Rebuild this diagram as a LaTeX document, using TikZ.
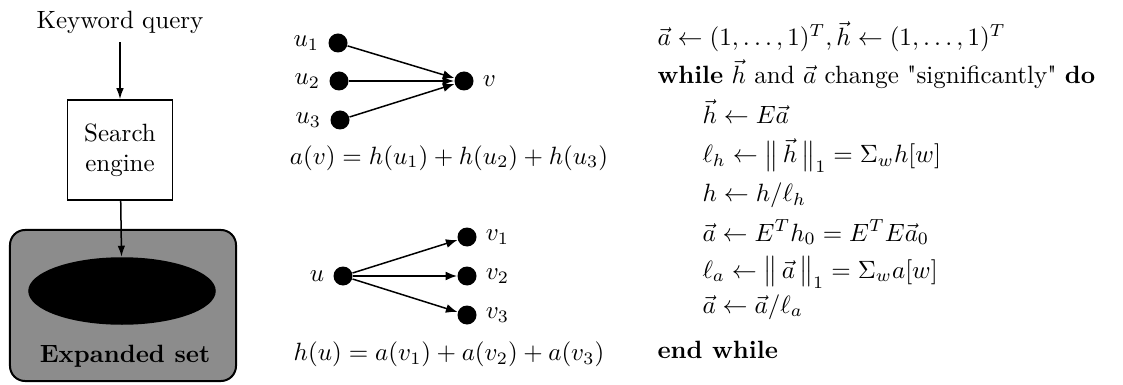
\documentclass[tikz,border=0pt]{standalone}
\usepackage{amsmath,amssymb}
\usepackage{fontspec}
\usetikzlibrary{positioning,arrows.meta,shapes.geometric}
\newcommand{\avec}{\vec{a}}
\newcommand{\hvec}{\vec{h}}

\begin{document}
\begin{tikzpicture}[x=0.4pt,y=-0.4pt,
  dot/.style={circle,fill,inner sep=0pt,minimum size=7.6pt},
  edge/.style={line width=0.6pt,-{Latex[length=4.6pt,width=3.6pt]}},
  flow/.style={line width=0.6pt,-{Latex[length=4.4pt,width=3pt]}},
  algline/.style={anchor=base west,inner sep=0pt}]
\useasboundingbox (0,0) rectangle (1123,385);
% left column: query -> search engine -> expanded set
\node (query) at (120,22) {Keyword query};
\node[draw,line width=0.6pt,minimum width=42pt,minimum height=40pt,align=center] (engine) at (120,150) {Search\\engine};
\node[draw,line width=0.8pt,rounded corners=6pt,fill=black!45,minimum width=90.4pt,minimum height=60.4pt] (expbox) at (123,305.5) {};
\node[ellipse,fill=black,minimum width=75pt,minimum height=27pt] (core) at (122,291) {};
\node[font=\bfseries] (expset) at (125,356) {Expanded set};
\draw[flow] (query) -- (engine);
\draw[flow] (engine) -- (core);
% middle: authority of v
\node[dot,label=left:$u_1$] (u1) at (338,43) {};
\node[dot,label=left:$u_2$] (u2) at (339,81) {};
\node[dot,label=left:$u_3$] (u3) at (340,120) {};
\node[dot,label=right:$v$] (v) at (464,81) {};
\foreach \s in {u1,u2,u3} \draw[edge] (\s) -- (v);
\node (fa) at (449,158) {$a(v) = h(u_1) + h(u_2) + h(u_3)$};
% middle: hub score of u
\node[dot,label=left:$u$] (u) at (343,276) {};
\node[dot,label=right:$v_1$] (v1) at (467,237) {};
\node[dot,label=right:$v_2$] (v2) at (467,276) {};
\node[dot,label=right:$v_3$] (v3) at (467,315) {};
\foreach \t in {v1,v2,v3} \draw[edge] (u) -- (\t);
\node (fh) at (449,354) {$h(u) = a(v_1) + a(v_2) + a(v_3)$};
% right: HITS iteration
\node[algline] (l1) at (657,46) {$\avec \leftarrow (1,\dots,1)^T, \hvec \leftarrow (1,\dots,1)^T$};
\node[algline] (l2) at (657,84) {\textbf{while} $\hvec$ and $\avec$ change \textquotedbl{}significantly\textquotedbl{} \textbf{do}};
\node[algline] (l3) at (702,124) {$\hvec \leftarrow E\avec$};
\node[algline] (l4) at (702,163) {$\ell_h \leftarrow \bigl\|\,\hvec\,\bigr\|_1 = \Sigma_w h[w]$};
\node[algline] (l5) at (702,202) {$h \leftarrow h/\ell_h$};
\node[algline] (l6) at (702,241) {$\avec \leftarrow E^T h_0 = E^T E\avec_0$};
\node[algline] (l7) at (702,278) {$\ell_a \leftarrow \bigl\|\,\avec\,\bigr\|_1 = \Sigma_w a[w]$};
\node[algline] (l8) at (702,313) {$\avec \leftarrow \avec/\ell_a$};
\node[algline] (l9) at (657,358) {\textbf{end while}};
\end{tikzpicture}
\end{document}
